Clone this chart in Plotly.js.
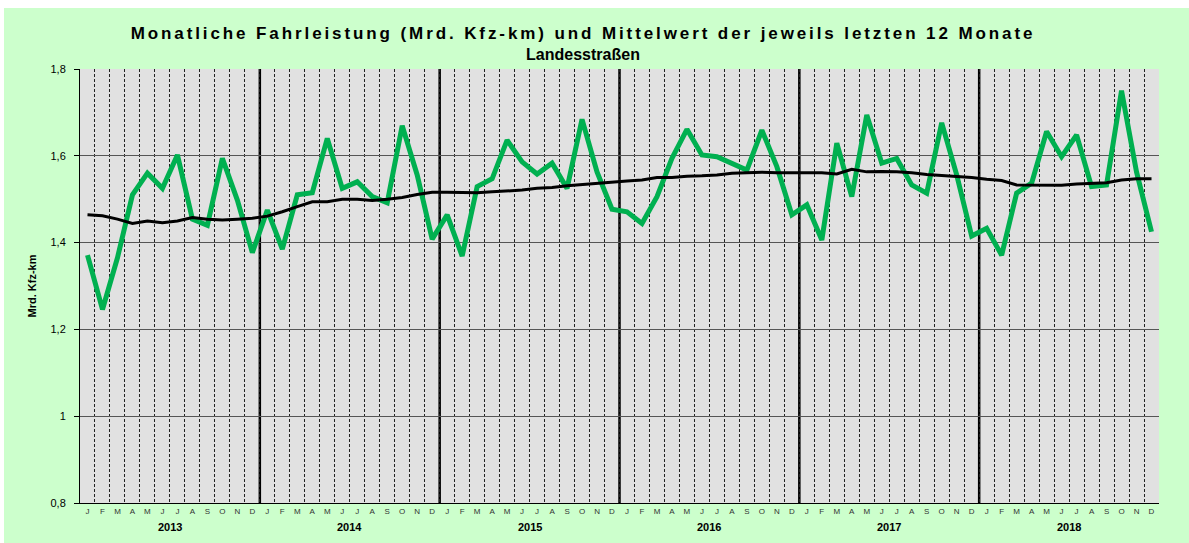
<!DOCTYPE html>
<html>
<head>
<meta charset="utf-8">
<script src="https://cdn.plot.ly/plotly-3.0.1.min.js"></script>
<style>
html,body{margin:0;padding:0;background:#fff;}
#chart{width:1189px;height:543px;}
</style>
</head>
<body>
<div id="chart"></div>
<script>
var years = ['2013','2014','2015','2016','2017','2018'];
var monthLetters = ['J','F','M','A','M','J','J','A','S','O','N','D'];

var monthly = [
  1.371, 1.246, 1.365, 1.510, 1.560, 1.525, 1.602, 1.454, 1.440, 1.594, 1.498, 1.377,
  1.475, 1.385, 1.510, 1.515, 1.640, 1.525, 1.540, 1.506, 1.492, 1.669, 1.556, 1.408,
  1.464, 1.369, 1.529, 1.547, 1.636, 1.586, 1.558, 1.583, 1.525, 1.684, 1.563, 1.477,
  1.471, 1.444, 1.506, 1.594, 1.661, 1.602, 1.598, 1.581, 1.567, 1.659, 1.575, 1.464,
  1.487, 1.406, 1.629, 1.506, 1.694, 1.583, 1.594, 1.533, 1.514, 1.676, 1.556, 1.415,
  1.433, 1.371, 1.514, 1.537, 1.656, 1.598, 1.648, 1.529, 1.533, 1.750, 1.563, 1.425
];

var average12 = [
  1.464, 1.462, 1.454, 1.444, 1.450, 1.446, 1.450, 1.458, 1.454, 1.452, 1.454, 1.456,
  1.461, 1.471, 1.483, 1.494, 1.494, 1.500, 1.500, 1.497, 1.500, 1.504, 1.511, 1.516,
  1.516, 1.516, 1.515, 1.517, 1.519, 1.521, 1.525, 1.527, 1.531, 1.534, 1.537, 1.540,
  1.542, 1.544, 1.550, 1.550, 1.553, 1.554, 1.556, 1.560, 1.561, 1.562, 1.561, 1.561,
  1.560, 1.561, 1.558, 1.569, 1.563, 1.564, 1.563, 1.561, 1.557, 1.555, 1.553, 1.550,
  1.546, 1.543, 1.533, 1.533, 1.532, 1.532, 1.535, 1.537, 1.538, 1.544, 1.547, 1.547
];

var titleLine1 = 'Monatliche Fahrleistung (Mrd. Kfz-km) und Mittelwert der jeweils letzten 12 Monate';
var titleLine2 = 'Landesstraßen';
var yTitle = 'Mrd. Kfz-km';

var n = monthly.length;
var xIdx = [], tickText = [];
for (var i = 0; i < n; i++) { xIdx.push(i); tickText.push(monthLetters[i % 12]); }

var traces = [
  {x: xIdx, y: monthly, type: 'scatter', mode: 'lines',
   line: {color: '#00B050', width: 5}, hoverinfo: 'y', name: 'Monat'},
  {x: xIdx, y: average12, type: 'scatter', mode: 'lines',
   line: {color: '#000000', width: 3}, hoverinfo: 'y', name: 'Mittel 12 Monate'}
];

var L = 80, R = 30, T = 69, B = 40, W = 1189, H = 543;
var pw = W - L - R, ph = H - T - B;
function px2x(p){ return (p - L) / pw; }
function py2y(p){ return (H - B - p) / ph; }

var shapes = [
  {type: 'rect', xref: 'paper', yref: 'paper', layer: 'below',
   x0: px2x(4), x1: px2x(1189), y0: py2y(543), y1: py2y(8),
   fillcolor: '#CCFFCC', line: {width: 0}},
  {type: 'rect', xref: 'paper', yref: 'paper', layer: 'below',
   x0: 0, x1: 1, y0: 0, y1: 1, fillcolor: '#E1E1E1', line: {width: 0}}
];
var annotations = [];
for (var k = 0; k < years.length; k++) {
  if (k > 0) {
    shapes.push({type: 'line', xref: 'x', yref: 'paper', layer: 'below',
      x0: k * 12 - 0.5, x1: k * 12 - 0.5, y0: 0, y1: 1,
      line: {color: '#000000', width: 2.5}});
  }
  annotations.push({xref: 'x', yref: 'paper', x: k * 12 + 5.5, y: py2y(527),
    text: '<b>' + years[k] + '</b>', showarrow: false, yanchor: 'middle',
    font: {family: 'Liberation Sans, Arial, sans-serif', size: 11, color: '#000'}});
}

var layout = {
  width: W, height: H,
  margin: {l: L, r: R, t: T, b: B, pad: 0},
  paper_bgcolor: '#FFFFFF',
  plot_bgcolor: 'rgba(0,0,0,0)',
  separators: ',.',
  showlegend: false,
  font: {family: 'Liberation Sans, Arial, sans-serif', color: '#000'},
  title: {
    text: '<b><span style="font-size:17px;letter-spacing:2.9px">' + titleLine1 + '</span><br>' + titleLine2 + '</b>',
    font: {family: 'Liberation Sans, Arial, sans-serif', size: 16, color: '#000'},
    xref: 'container', yref: 'container', x: 583 / W, y: 1 - 39 / H,
    xanchor: 'center', yanchor: 'middle'
  },
  xaxis: {
    range: [-0.5, n - 0.5], fixedrange: true,
    tickmode: 'array', tickvals: xIdx, ticktext: tickText,
    tickfont: {size: 8, color: '#333'},
    ticks: '', showgrid: false, zeroline: false,
    showline: true, linecolor: '#000', linewidth: 1,
    minor: {tick0: -0.5, dtick: 1, showgrid: true, griddash: '3px,2px',
            gridcolor: '#222', gridwidth: 1, ticks: ''}
  },
  yaxis: {
    range: [0.8, 1.8], dtick: 0.2, tick0: 0.8, fixedrange: true,
    showgrid: true, gridcolor: '#555', gridwidth: 1, zeroline: false,
    showline: true, linecolor: '#000', linewidth: 1,
    ticks: 'outside', ticklen: 5, tickcolor: '#000',
    ticklabelstandoff: 6,
    tickfont: {size: 11, color: '#000'},
    title: {text: '<b>' + yTitle + '</b>', font: {size: 11, color: '#000'}, standoff: 11}
  },
  shapes: shapes,
  annotations: annotations
};

Plotly.newPlot('chart', traces, layout, {displayModeBar: false, staticPlot: true});
</script>
</body>
</html>
